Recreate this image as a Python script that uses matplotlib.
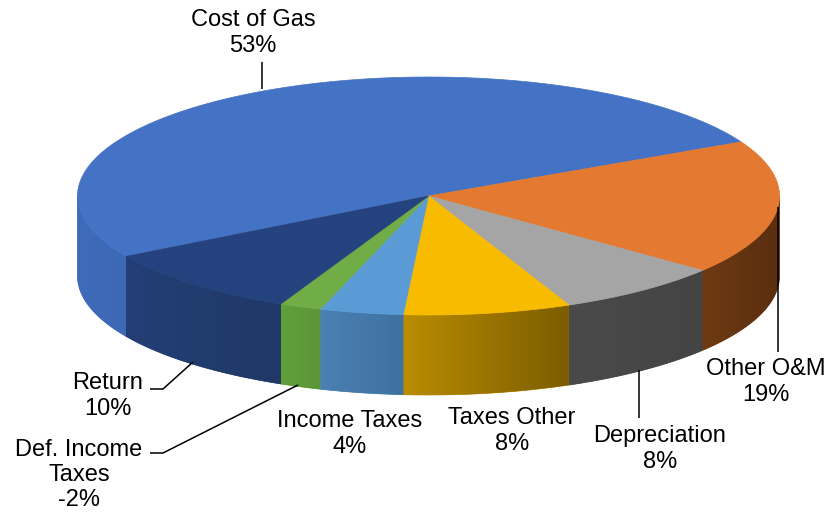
import numpy as np
import matplotlib
matplotlib.use("Agg")
import matplotlib.pyplot as plt
from matplotlib.patches import Polygon
from matplotlib.colors import to_rgb

# cost components (percent of revenue requirement)
categories = ["Cost of Gas", "Other O&M", "Depreciation", "Taxes Other",
              "Income Taxes", "Def. Income\nTaxes", "Return"]
shares = [53, 19, 8, 8, 4, -2, 10]

top_colors = ["#4472C4", "#E47A31", "#A5A5A5", "#F7BB00",
              "#5B9BD5", "#70AD47", "#24437E"]
# side wall shading (left end, right end)
side_colors = [("#3F6BBA", "#3D68B5"), ("#6E3A14", "#5A2E0F"),
               ("#4A4A4A", "#444444"), ("#BA8C00", "#7C5D00"),
               ("#4A80B3", "#3E72A0"), ("#62A03C", "#5B9536"),
               ("#233F76", "#1F3866")]

# label positions (text block centre) and leader lines
label_pos = [(253, 33), (766, 382), (660, 449), (512, 431),
             (350, 434), (79, 475), (108, 396)]
leaders = {
    0: [(262, 62), (262, 89)],
    1: [(778, 207), (778, 352)],
    2: [(639, 370), (639, 418)],
    5: [(150, 453), (163, 453), (298, 385)],
    6: [(150, 389), (163, 389), (193, 362)],
}

# pie geometry in pixels
cx, cy = 428.5, 196.0
rx, ry = 351.0, 119.0
depth = 80.0
start = 210.5  # degrees, slices run clockwise


def rim(t_deg, drop=0.0):
    t = np.radians(t_deg)
    return cx + rx * np.cos(t), cy - ry * np.sin(t) + drop


fig = plt.figure(figsize=(8.33, 5.17), dpi=100)
ax = fig.add_axes([0, 0, 1, 1])
ax.axis("off")

sizes = np.abs(shares)
angles = sizes / sizes.sum() * 360.0
bounds = start - np.concatenate([[0], np.cumsum(angles)])

# side walls (front half only) with a left-to-right shading gradient
for i in range(len(shares)):
    t_hi, t_lo = bounds[i], bounds[i + 1]
    c0, c1 = np.array(to_rgb(side_colors[i][0])), np.array(to_rgb(side_colors[i][1]))
    for k in (-1, 0, 1):
        lo = max(t_lo, 180 + 360 * k)
        hi = min(t_hi, 360 + 360 * k)
        if hi <= lo:
            continue
        ts = np.linspace(lo, hi, 120)
        xs, ys = rim(ts)
        pts = list(zip(xs, ys)) + list(zip(xs[::-1], ys[::-1] + depth))
        poly = Polygon(pts, closed=True, facecolor=c0, edgecolor=c0,
                       lw=0.5, zorder=1)
        ax.add_patch(poly)
        f = np.linspace(0, 1, 64)[None, :, None]
        grad = c0 * (1 - f) + c1 * f
        grad = np.repeat(grad, 2, axis=0)
        x0, x1 = xs.min(), xs.max()
        y0, y1 = ys.min(), ys.max() + depth
        im = ax.imshow(grad, extent=(x0, x1, y1, y0), aspect="auto",
                       interpolation="bilinear", zorder=1.5)
        im.set_clip_path(poly)

# top faces
for i in range(len(shares)):
    ts = np.linspace(bounds[i], bounds[i + 1], 200)
    xs, ys = rim(ts)
    pts = [(cx, cy)] + list(zip(xs, ys))
    ax.add_patch(Polygon(pts, closed=True, facecolor=top_colors[i],
                         edgecolor=top_colors[i], lw=0.5, zorder=2))

# leader lines
for i, pts in leaders.items():
    xs, ys = zip(*pts)
    ax.plot(xs, ys, color="black", lw=1.1, zorder=3, solid_capstyle="butt")

# data labels
for i, name in enumerate(categories):
    ax.text(label_pos[i][0], label_pos[i][1], f"{name}\n{shares[i]}%",
            ha="center", va="center", multialignment="center",
            fontsize=17, family="Liberation Sans", linespacing=1.2,
            color="black", zorder=4)

ax.set_xlim(0, 833)
ax.set_ylim(517, 0)
fig.savefig("out.png", dpi=100)
